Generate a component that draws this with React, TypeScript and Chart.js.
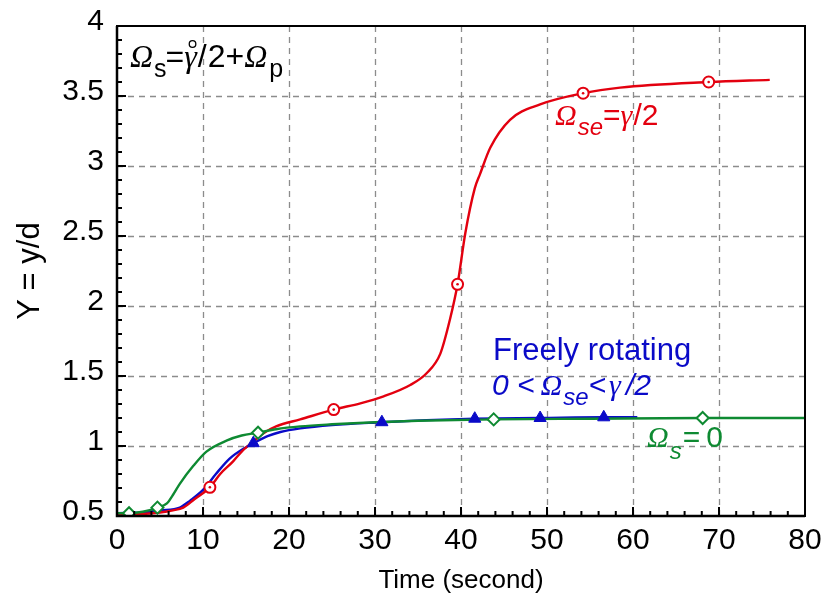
import { useEffect, useRef } from "react";
import { Chart, registerables } from "chart.js";

Chart.register(...registerables);

// Ω_se = γ/2 (red)
const redTime = [0, 3, 5, 6.5, 7.7, 9, 10.8, 12, 13.5, 14.5, 15.8, 17, 18.5, 21.3, 25.2, 28.3, 31, 34.1, 36, 37.6, 38.7, 39.6, 40.5, 41.6, 42.2, 43.4, 45.7, 49.2, 54.2, 58.5, 68.8, 75.9];
const redY = [0.515, 0.515, 0.525, 0.54, 0.56, 0.62, 0.705, 0.8, 0.89, 0.96, 1.03, 1.09, 1.14, 1.19, 1.26, 1.305, 1.355, 1.436, 1.52, 1.66, 1.9, 2.155, 2.52, 2.84, 2.94, 3.13, 3.33, 3.44, 3.52, 3.56, 3.6, 3.615];
const redMarkTime = [10.8, 25.2, 39.6, 54.2, 68.8];
const redMarkY = [0.705, 1.26, 2.155, 3.52, 3.6];

// freely rotating (blue)
const blueTime = [0, 3, 5, 7.3, 8.5, 10, 11.5, 13.1, 15.1, 15.85, 17.5, 19, 21.3, 25, 30.8, 36, 41.6, 49.2, 56.6, 60.5];
const blueY = [0.52, 0.525, 0.54, 0.56, 0.61, 0.686, 0.8, 0.91, 0.995, 1.02, 1.07, 1.1, 1.126, 1.15, 1.17, 1.185, 1.195, 1.2, 1.205, 1.205];
const blueMarkTime = [15.85, 30.8, 41.6, 49.2, 56.6];
const blueMarkY = [1.02, 1.17, 1.195, 1.2, 1.205];

// Ω_s = 0 (green)
const greenTime = [0, 1.4, 3, 4.7, 5.8, 6.5, 7.3, 8.9, 10.4, 12.8, 14.5, 16.4, 18.5, 21.3, 25, 30, 35, 43.8, 55, 68.1, 80];
const greenY = [0.52, 0.52, 0.53, 0.56, 0.59, 0.65, 0.73, 0.86, 0.96, 1.04, 1.075, 1.095, 1.12, 1.14, 1.155, 1.17, 1.18, 1.19, 1.195, 1.2, 1.2];
const greenMarkTime = [1.4, 4.7, 16.4, 43.8, 68.1];
const greenMarkY = [0.52, 0.56, 1.095, 1.19, 1.2];

const xTicks = [0, 10, 20, 30, 40, 50, 60, 70, 80];
const yTicks = [0.5, 1, 1.5, 2, 2.5, 3, 3.5, 4];

const RED = "#e3000f";
const BLUE = "#0a0ac8";
const GREEN = "#0e8a32";

const SANS = "'Liberation Sans', Arial, sans-serif";
const SERIF = "'Liberation Serif', 'Times New Roman', serif";

const pts = (xs: number[], ys: number[]) => xs.map((x, i) => ({ x, y: ys[i] }));

type Seg = { t: string; font: string; dy?: number; gap?: number; ring?: boolean };

function drawRich(ctx: CanvasRenderingContext2D, x: number, y: number, segs: Seg[], color: string) {
  let cx = x;
  ctx.fillStyle = color;
  ctx.strokeStyle = color;
  ctx.textBaseline = "alphabetic";
  ctx.textAlign = "left";
  for (const s of segs) {
    ctx.font = s.font;
    ctx.fillText(s.t, cx, y + (s.dy || 0));
    const w = ctx.measureText(s.t).width;
    if (s.ring) {
      ctx.lineWidth = 1.3;
      ctx.beginPath();
      ctx.arc(cx + w / 2 + 2, y - 23, 3.3, 0, Math.PI * 2);
      ctx.stroke();
    }
    cx += w + (s.gap || 0);
  }
}

const om = `italic 30px ${SERIF}`;
const txt = `30px ${SANS}`;
const itx = `italic 30px ${SANS}`;
const isub = `italic 24px ${SANS}`;
const omL = `italic 32px ${SERIF}`;
const txtL = `32px ${SANS}`;
const subL = `25px ${SANS}`;

const framePlugin = {
  id: "frameGrid",
  beforeDatasetsDraw(chart: any) {
    const { ctx, chartArea: a, scales } = chart;
    const xs = scales.x, ys = scales.y;
    ctx.save();
    ctx.strokeStyle = "#8c8c8c";
    ctx.lineWidth = 1.3;
    ctx.setLineDash([6, 5]);
    for (const v of xTicks.slice(1, -1)) {
      const px = Math.round(xs.getPixelForValue(v)) + 0.5;
      ctx.beginPath();
      ctx.moveTo(px, a.top);
      ctx.lineTo(px, a.bottom);
      ctx.stroke();
    }
    for (const v of yTicks.slice(1, -1)) {
      const py = Math.round(ys.getPixelForValue(v)) + 0.5;
      ctx.beginPath();
      ctx.moveTo(a.left, py);
      ctx.lineTo(a.right, py);
      ctx.stroke();
    }
    ctx.restore();
  },
  afterDatasetsDraw(chart: any) {
    const { ctx, chartArea: a, scales } = chart;
    const xs = scales.x, ys = scales.y;
    ctx.save();
    ctx.setLineDash([]);
    ctx.strokeStyle = "#000";
    // inward ticks
    ctx.lineWidth = 2;
    for (let v = 2; v < 80; v += 2) {
      const px = xs.getPixelForValue(v);
      const len = v % 10 === 0 ? 9 : 5;
      ctx.beginPath();
      ctx.moveTo(px, a.bottom);
      ctx.lineTo(px, a.bottom - len);
      ctx.stroke();
    }
    for (let i = 6; i < 40; i++) {
      const v = i / 10;
      const py = ys.getPixelForValue(v);
      const len = i % 5 === 0 ? 9 : 5;
      ctx.beginPath();
      ctx.moveTo(a.left, py);
      ctx.lineTo(a.left + len, py);
      ctx.stroke();
    }
    // frame
    ctx.lineWidth = 2;
    ctx.strokeRect(a.left, a.top, a.right - a.left, a.bottom - a.top);
    ctx.lineWidth = 2.5;
    ctx.beginPath();
    ctx.moveTo(a.left, a.top);
    ctx.lineTo(a.left, a.bottom);
    ctx.lineTo(a.right, a.bottom);
    ctx.stroke();

    // curve labels
    const at = (t: number, y: number) => [xs.getPixelForValue(t), ys.getPixelForValue(y)];
    let [lx, ly] = at(1.5, 3.707);
    drawRich(ctx, lx, ly, [
      { t: "Ω", font: omL, gap: 1 },
      { t: "s", font: subL, dy: 10, gap: -1 },
      { t: "=", font: txtL },
      { t: "γ", font: omL, ring: true, gap: 1 },
      { t: "/", font: txtL, gap: 1 },
      { t: "2+", font: txtL },
      { t: "Ω", font: omL, gap: 2 },
      { t: "p", font: subL, dy: 10 },
    ], "#000");

    [lx, ly] = at(50.93, 3.293);
    drawRich(ctx, lx, ly, [
      { t: "Ω", font: om, gap: 1 },
      { t: "se", font: isub, dy: 10 },
      { t: "=", font: txt },
      { t: "γ", font: om, gap: 1 },
      { t: "/2", font: txt },
    ], RED);

    [lx, ly] = at(43.72, 1.614);
    drawRich(ctx, lx, ly, [{ t: "Freely rotating", font: `31px ${SANS}` }], BLUE);
    [lx, ly] = at(43.6, 1.364);
    drawRich(ctx, lx, ly, [
      { t: "0 <", font: itx, gap: 6 },
      { t: "Ω", font: om, gap: 1 },
      { t: "se", font: isub, dy: 10 },
      { t: "<", font: itx, gap: 3 },
      { t: "γ", font: om, gap: 5 },
      { t: "/2", font: itx },
    ], BLUE);

    [lx, ly] = at(61.63, 0.993);
    drawRich(ctx, lx, ly, [
      { t: "Ω", font: om, gap: 1 },
      { t: "s", font: isub, dy: 12, gap: 1 },
      { t: "=", font: txt, gap: 6 },
      { t: "0", font: txt },
    ], GREEN);
    ctx.restore();
  },
};

export default function App() {
  const ref = useRef<HTMLCanvasElement | null>(null);

  useEffect(() => {
    if (!ref.current) return;
    const lineDs = (data: any, color: string) => ({
      data,
      showLine: true,
      borderColor: color,
      borderWidth: 2.4,
      pointRadius: 0,
      cubicInterpolationMode: "monotone" as const,
      fill: false,
    });
    const chart = new Chart(ref.current, {
      type: "scatter",
      data: {
        datasets: [
          {
            data: pts(redMarkTime, redMarkY),
            pointStyle: "circle",
            pointRadius: 1.3,
            pointBackgroundColor: RED,
            pointBorderWidth: 0,
            showLine: false,
          },
          {
            data: pts(redMarkTime, redMarkY),
            pointStyle: "circle",
            pointRadius: 5.5,
            pointBackgroundColor: "#fff",
            pointBorderColor: RED,
            pointBorderWidth: 2,
            showLine: false,
          },
          {
            data: pts(greenMarkTime, greenMarkY),
            pointStyle: "rectRot",
            pointRadius: 6,
            pointBackgroundColor: "#fff",
            pointBorderColor: GREEN,
            pointBorderWidth: 2,
            showLine: false,
          },
          {
            data: pts(blueMarkTime, blueMarkY),
            pointStyle: "triangle",
            pointRadius: 7,
            pointBackgroundColor: BLUE,
            pointBorderColor: BLUE,
            pointBorderWidth: 1,
            showLine: false,
          },
          lineDs(pts(greenTime, greenY), GREEN),
          lineDs(pts(redTime, redY), RED),
          lineDs(pts(blueTime, blueY), BLUE),
        ],
      },
      options: {
        animation: false,
        responsive: false,
        devicePixelRatio: 1,
        layout: { padding: { top: 26, right: 20, left: 0, bottom: 0 } },
        plugins: { legend: { display: false }, tooltip: { enabled: false } },
        scales: {
          x: {
            type: "linear",
            min: 0,
            max: 80,
            afterFit: (s: any) => { s.height = 90; s.paddingLeft = 0; s.paddingRight = 0; },
            afterBuildTicks: (s: any) => { s.ticks = xTicks.map((v) => ({ value: v })); },
            ticks: { color: "#000", font: { family: SANS, size: 30 }, padding: 7, maxRotation: 0, callback: (v: any) => `${v}` },
            grid: { display: false, drawTicks: false },
            border: { display: false },
            title: { display: true, text: "Time (second)", color: "#000", font: { family: SANS, size: 26 }, padding: { top: 0, bottom: 10 } },
          },
          y: {
            type: "linear",
            min: 0.5,
            max: 4,
            afterFit: (s: any) => { s.width = 117; s.paddingTop = 0; s.paddingBottom = 0; },
            afterBuildTicks: (s: any) => { s.ticks = yTicks.map((v) => ({ value: v })); },
            ticks: { color: "#000", font: { family: SANS, size: 30 }, padding: 13, labelOffset: -4, callback: (v: any) => `${v}` },
            grid: { display: false, drawTicks: false },
            border: { display: false },
            title: { display: true, text: "Y = y/d", color: "#000", font: { family: SANS, size: 31 }, padding: { top: 12, bottom: 0 } },
          },
        },
      },
      plugins: [framePlugin],
    });
    return () => chart.destroy();
  }, []);

  return (
    <div style={{ position: "fixed", left: 0, top: 0, width: 825, height: 606, background: "#fff" }}>
      <canvas ref={ref} width={825} height={606} />
    </div>
  );
}
